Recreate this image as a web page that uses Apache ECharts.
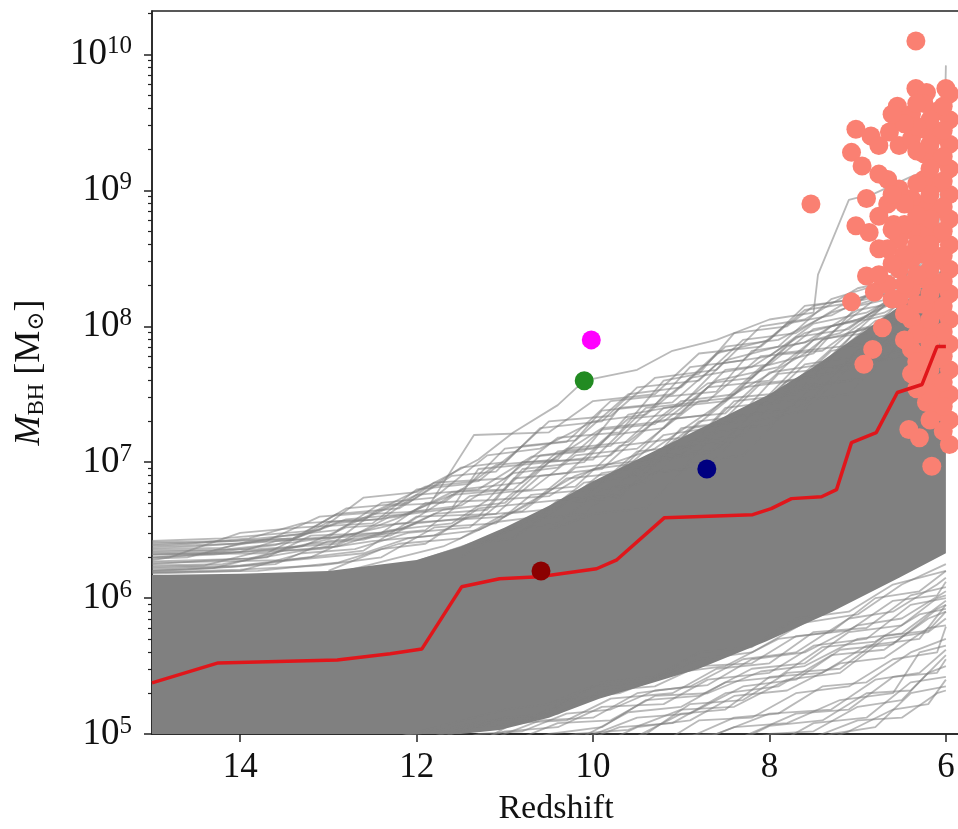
<!DOCTYPE html>
<html>
<head>
<meta charset="utf-8">
<script src="https://cdn.jsdelivr.net/npm/echarts@6/dist/echarts.min.js"></script>
<style>
  html, body { margin: 0; padding: 0; background: #fff; }
  #chart { width: 958px; height: 829px; }
</style>
</head>
<body>
<div id="chart"></div>
<script>
// Black-hole growth tracks vs redshift. Masses are stored as log10(M / Msun).

const xTicks = [6, 8, 10, 12, 14];
const yTicks = [1e5, 1e6, 1e7, 1e8, 1e9, 1e10];

// Envelope of the densely overlapping tracks: [redshift, log10 M]
const bandUpper = [
  [15, 6.17], [14, 6.18], [13, 6.2], [12, 6.28], [11.5, 6.38], [11, 6.52],
  [10.5, 6.68], [10, 6.86], [9.5, 7.02], [9, 7.18], [8.5, 7.34], [8, 7.5],
  [7.5, 7.7], [7, 7.93], [6.5, 8.16], [6.2, 8.3], [6.0, 8.45]
];
const bandLower = [
  [15, 5.0], [11.5, 5.0], [11.06, 5.03], [10.5, 5.12], [9.93, 5.26], [9.36, 5.37],
  [8.8, 5.48], [8.04, 5.68], [7.29, 5.9], [6.53, 6.15], [6.0, 6.33]
];

// Individual tracks above the dense band
const upperTracks = [
  [[15,6.42],[14.2,6.44],[13.1,6.5],[12.6,6.74],[12.0,6.78],[11.3,7.02],[10.9,7.22],[10.4,7.42],[10.1,7.6],[9.5,7.68],[9.1,7.82],[8.6,7.9],[8.0,8.05],[7.5,8.1],[7.45,8.38],[7.1,8.93],[6.8,8.98],[6.4,9.1],[6.0,9.2]],
  [[15,6.3],[13.5,6.36],[12.2,6.55],[11,6.6],[10.2,6.9],[9.3,7.1],[8.4,7.5],[7.6,7.8],[7.0,8.1],[6.5,8.35],[6.1,8.6],[6.02,9.3],[6.0,9.92]],
  [[15,6.38],[14.0,6.4],[13.0,6.45],[12.4,6.7],[11.8,6.74],[11.2,7.05],[10.6,7.1],[10.0,7.3],[9.4,7.35],[8.9,7.62],[8.2,7.7],[7.6,7.95],[7.0,8.05],[6.5,8.2],[6.0,8.3]],
  [[15,6.35],[13.8,6.36],[12.9,6.4],[12.3,6.6],[11.6,6.66],[11.3,6.95],[10.5,7.0],[9.9,7.25],[9.2,7.3],[8.6,7.6],[7.9,7.7],[7.3,8.0],[6.7,8.1],[6.0,8.35]],
  [[15,6.3],[14.3,6.32],[13.3,6.38],[12.8,6.52],[12.1,6.55],[11.5,6.8],[10.8,6.85],[10.3,7.1],[9.6,7.15],[9.0,7.45],[8.4,7.5],[7.8,7.85],[7.2,7.95],[6.6,8.2],[6.0,8.4]],
  [[15,6.26],[13.5,6.28],[12.6,6.35],[12.0,6.6],[11.1,6.62],[10.6,6.9],[9.9,6.95],[9.3,7.3],[8.7,7.35],[8.1,7.7],[7.5,7.8],[7.0,8.15],[6.3,8.25],[6.0,8.5]],
  [[15,6.22],[14.0,6.24],[13.2,6.3],[12.7,6.45],[11.9,6.5],[11.4,6.75],[10.7,6.8],[10.2,7.05],[9.5,7.1],[8.8,7.45],[8.0,7.5],[7.4,7.9],[6.8,8.0],[6.2,8.3],[6.0,8.35]],
  [[15,6.2],[14.6,6.21],[13.6,6.25],[13.0,6.42],[12.3,6.46],[11.7,6.65],[11.0,6.7],[10.5,7.0],[9.8,7.05],[9.2,7.4],[8.5,7.45],[7.9,7.8],[7.2,7.85],[6.7,8.15],[6.0,8.25]],
  [[15,6.4],[14.4,6.41],[13.4,6.44],[12.9,6.62],[12.2,6.66],[11.6,6.9],[11.1,6.93],[10.6,7.25],[9.9,7.3],[9.5,7.55],[8.8,7.6],[8.3,7.9],[7.7,7.95],[7.2,8.15],[6.6,8.25],[6.0,8.45]],
  [[15,6.33],[14.0,6.34],[13.6,6.42],[12.8,6.45],[12.2,6.5],[11.8,6.62],[11.2,6.65],[10.8,6.95],[10.1,7.0],[9.6,7.35],[9.0,7.42],[8.5,7.75],[7.9,7.85],[7.3,8.2],[6.9,8.28],[6.4,8.45],[6.0,8.55]],
  [[15,6.28],[14.8,6.3],[14.0,6.48],[13.3,6.52],[12.5,6.55],[12.0,6.8],[11.4,6.84],[11.0,7.1],[10.3,7.15],[9.8,7.45],[9.1,7.5],[8.6,7.8],[8.0,7.9],[7.6,8.15],[7.0,8.2],[6.5,8.35],[6.0,8.6]],
  [[15,6.24],[14.2,6.25],[13.0,6.38],[12.5,6.62],[11.9,6.64],[11.35,7.2],[10.5,7.22],[10.0,7.45],[9.3,7.5],[8.8,7.8],[8.1,7.85],[7.6,8.12],[7.0,8.18],[6.5,8.4],[6.0,8.5]],
  [[15,6.18],[14.0,6.2],[13.3,6.33],[12.7,6.36],[12.1,6.48],[11.4,6.52],[10.9,6.78],[10.2,6.82],[9.7,7.12],[9.0,7.18],[8.3,7.55],[7.7,7.6],[7.1,7.95],[6.5,8.05],[6.0,8.3]],
  [[15,6.32],[13.7,6.33],[13.0,6.56],[12.4,6.58],[11.8,6.85],[11.0,6.88],[10.4,7.18],[9.7,7.22],[9.2,7.6],[8.8,7.65],[8.4,7.95],[7.8,8.0],[7.5,8.15],[6.9,8.22],[6.3,8.4],[6.0,8.5]],
  [[15,6.2],[14.3,6.22],[13.5,6.35],[12.9,6.38],[12.3,6.5],[11.6,6.55],[11.2,6.72],[10.5,6.75],[10.0,6.95],[9.4,7.0],[8.9,7.25],[8.3,7.3],[7.8,7.6],[7.1,7.68],[6.6,8.0],[6.0,8.15]],
  [[15,6.25],[14.5,6.27],[13.7,6.3],[13.2,6.46],[12.4,6.48],[11.9,6.7],[11.2,6.72],[10.8,7.0],[10.0,7.02],[9.4,7.4],[8.7,7.45],[8.1,7.78],[7.4,7.82],[6.9,8.05],[6.2,8.15],[6.0,8.25]],
  [[15,6.19],[13.8,6.2],[12.9,6.26],[12.2,6.4],[11.5,6.44],[11.0,6.62],[10.4,6.66],[9.9,6.92],[9.3,6.98],[8.8,7.3],[8.2,7.35],[7.6,7.72],[7.0,7.78],[6.5,8.1],[6.0,8.2]],
  [[15,6.21],[14.1,6.23],[13.4,6.28],[12.6,6.33],[12.1,6.44],[11.3,6.5],[10.7,6.7],[10.1,6.74],[9.6,7.0],[9.0,7.05],[8.5,7.4],[7.9,7.45],[7.3,7.82],[6.8,7.88],[6.3,8.18],[6.0,8.28]],
  [[15,6.23],[14.4,6.24],[13.8,6.34],[13.1,6.36],[12.5,6.42],[11.8,6.46],[11.4,6.6],[10.8,6.64],[10.3,6.88],[9.7,6.92],[9.2,7.2],[8.6,7.26],[8.1,7.58],[7.5,7.62],[7.0,7.98],[6.4,8.06],[6.0,8.32]],
  [[12.8,6.2],[12.2,6.3],[11.7,6.38],[11.1,6.56],[10.6,6.6],[10.1,6.85],[9.5,6.9],[9.0,7.25],[8.4,7.3],[7.9,7.65],[7.2,7.7],[6.7,8.0],[6.2,8.1],[6.0,8.38]],
  [[15,6.36],[14.2,6.37],[13.5,6.46],[12.9,6.5],[12.3,6.68],[11.7,6.7],[11.1,6.98],[10.4,7.02],[9.9,7.38],[9.3,7.42],[8.9,7.7],[8.3,7.75],[7.8,8.02],[7.3,8.08],[6.8,8.25],[6.2,8.32],[6.0,8.55]],
  [[15,6.27],[13.9,6.29],[13.2,6.4],[12.6,6.43],[12.0,6.55],[11.3,6.6],[10.9,6.88],[10.3,6.92],[9.8,7.2],[9.2,7.25],[8.7,7.55],[8.0,7.6],[7.5,7.9],[6.9,7.95],[6.4,8.25],[6.0,8.35]],
  [[11.5,6.3],[11.0,6.5],[10.4,6.55],[9.9,6.8],[9.4,6.85],[8.9,7.15],[8.3,7.2],[7.8,7.55],[7.1,7.6],[6.6,7.95],[6.1,8.0],[6.0,8.2]],
  [[10.5,6.5],[10.0,6.62],[9.4,6.66],[8.9,7.0],[8.3,7.05],[7.7,7.45],[7.1,7.5],[6.6,7.85],[6.0,7.95]],
  [[15,6.29],[14.6,6.3],[13.9,6.42],[13.4,6.44],[12.8,6.58],[12.1,6.62],[11.6,6.78],[11.0,6.8],[10.6,7.05],[10.0,7.1],[9.6,7.32],[9.0,7.36],[8.5,7.68],[8.0,7.72],[7.5,7.98],[6.9,8.05],[6.4,8.3],[6.0,8.42]],
  [[15,6.37],[14.5,6.38],[13.7,6.42],[13.1,6.6],[12.5,6.63],[11.9,6.82],[11.3,6.86],[10.8,7.12],[10.2,7.16],[9.6,7.5],[9.0,7.55],[8.5,7.85],[7.9,7.9],[7.3,8.1],[6.8,8.2],[6.3,8.38],[6.0,8.48]],
  [[9.8,6.75],[9.3,6.92],[8.7,6.97],[8.2,7.3],[7.6,7.38],[7.1,7.7],[6.5,7.78],[6.0,8.1]],
  [[15,6.19],[14.0,6.21],[13.1,6.24],[12.4,6.3],[11.8,6.52],[11.1,6.55],[10.7,6.76],[10.0,6.8],[9.5,7.08],[8.9,7.12],[8.4,7.45],[7.7,7.5],[7.2,7.85],[6.6,7.9],[6.1,8.2],[6.0,8.22]],
  [[15,6.41],[14.1,6.42],[13.3,6.47],[12.8,6.66],[12.1,6.7],[11.5,6.96],[11.0,7.0],[10.5,7.3],[9.8,7.34],[9.3,7.62],[8.6,7.68],[8.1,8.0],[7.6,8.05],[7.0,8.28],[6.5,8.35],[6.0,8.5]],
  [[15,6.32],[14.4,6.33],[13.6,6.39],[12.9,6.55],[12.2,6.6],[11.6,6.76],[10.9,6.8],[10.4,7.08],[9.8,7.12],[9.2,7.48],[8.6,7.52],[8.2,7.82],[7.6,7.88],[7.0,8.12],[6.5,8.18],[6.0,8.4]],
  [[9.6,6.9],[9.1,7.1],[8.5,7.15],[8.0,7.5],[7.4,7.55],[6.9,7.9],[6.3,7.98],[6.0,8.25]],
  [[10.9,6.45],[10.3,6.7],[9.7,6.74],[9.2,7.05],[8.6,7.1],[8.1,7.42],[7.5,7.48],[7.0,7.82],[6.4,7.9],[6.0,8.15]],
  [[12.0,6.27],[11.4,6.4],[10.9,6.44],[10.4,6.72],[9.7,6.76],[9.2,7.02],[8.6,7.08],[8.2,7.36],[7.6,7.42],[7.1,7.74],[6.5,7.82],[6.0,8.05]],
  [[15,6.34],[14.3,6.35],[13.4,6.41],[12.7,6.47],[12.0,6.64],[11.5,6.68],[10.9,6.92],[10.4,6.96],[9.9,7.24],[9.3,7.28],[8.7,7.58],[8.2,7.62],[7.7,7.92],[7.1,7.98],[6.6,8.22],[6.0,8.3]],
  [[15,6.39],[14.6,6.4],[13.9,6.44],[13.3,6.55],[12.6,6.58],[12.0,6.76],[11.3,6.8],[10.7,7.04],[10.1,7.08],[9.7,7.4],[9.1,7.44],[8.6,7.72],[8.0,7.78],[7.5,8.02],[6.9,8.1],[6.4,8.28],[6.0,8.36]],
  [[8.9,7.1],[8.4,7.34],[7.8,7.38],[7.3,7.7],[6.7,7.76],[6.2,8.1],[6.0,8.15]],
  [[11.2,6.42],[10.7,6.58],[10.1,6.62],[9.6,6.9],[9.0,6.95],[8.6,7.22],[8.0,7.28],[7.5,7.56],[6.9,7.62],[6.4,7.95],[6.0,8.0]],
  [[13.0,6.2],[12.4,6.36],[11.9,6.4],[11.3,6.66],[10.7,6.7],[10.2,6.96],[9.6,7.0],[9.1,7.32],[8.5,7.36],[8.0,7.66],[7.4,7.72],[6.8,8.04],[6.3,8.1],[6.0,8.26]]
];

// Individual tracks below the dense band
const lowerTracks = [
  [[11.6,4.9],[11.0,5.02],[10.4,5.05],[9.9,5.2],[9.2,5.22],[8.7,5.4],[8.0,5.45],[7.5,5.65],[6.9,5.7],[6.4,5.95],[6.0,6.0]],
  [[10.8,4.9],[10.2,5.0],[9.6,5.03],[9.0,5.18],[8.4,5.2],[7.8,5.4],[7.2,5.45],[6.7,5.7],[6.2,5.75],[6.0,5.85]],
  [[9.8,4.9],[9.2,4.98],[8.6,5.0],[8.0,5.15],[7.3,5.18],[6.8,5.4],[6.3,5.45],[6.0,5.62]],
  [[8.6,4.9],[8.0,5.0],[7.5,5.02],[7.0,5.2],[6.5,5.25],[6.2,5.45],[6.0,5.5]],
  [[7.8,4.9],[7.3,5.0],[6.8,5.05],[6.4,5.3],[6.0,5.35]],
  [[12.0,4.95],[11.4,5.05],[10.8,5.08],[10.3,5.25],[9.7,5.3],[9.1,5.45],[8.5,5.5],[7.9,5.7],[7.3,5.75],[6.8,6.0],[6.3,6.05],[6.0,6.2]],
  [[10.3,4.9],[9.7,5.05],[9.1,5.08],[8.5,5.3],[7.9,5.35],[7.3,5.58],[6.7,5.62],[6.2,5.85],[6.0,5.9]],
  [[9.3,4.9],[8.8,5.1],[8.2,5.12],[7.7,5.3],[7.1,5.35],[6.6,5.55],[6.1,5.6],[6.0,5.79]],
  [[11.2,4.95],[10.6,5.1],[10.0,5.12],[9.5,5.3],[8.9,5.35],[8.3,5.55],[7.7,5.6],[7.1,5.85],[6.6,5.9],[6.1,6.1],[6.0,6.15]],
  [[8.2,4.9],[7.6,4.95],[7.0,5.1],[6.5,5.12],[6.1,5.3],[6.0,5.32]],
  [[12.5,4.95],[11.8,5.02],[11.2,5.1],[10.6,5.12],[10.0,5.35],[9.4,5.38],[8.8,5.55],[8.2,5.6],[7.6,5.82],[7.0,5.88],[6.5,6.1],[6.0,6.25]],
  [[9.0,4.9],[8.4,5.05],[7.8,5.08],[7.2,5.25],[6.6,5.3],[6.3,5.6],[6.0,5.65]],
  [[11.8,4.9],[11.3,5.0],[10.8,5.02],[10.3,5.15],[9.8,5.18],[9.3,5.32],[8.7,5.36],[8.2,5.55],[7.6,5.6],[7.0,5.8],[6.5,5.85],[6.0,6.05]],
  [[11.0,4.9],[10.5,5.0],[9.9,5.05],[9.4,5.25],[8.8,5.28],[8.2,5.48],[7.6,5.52],[7.1,5.75],[6.5,5.8],[6.1,6.0],[6.0,6.02]],
  [[10.0,4.9],[9.5,5.05],[8.9,5.1],[8.4,5.28],[7.8,5.32],[7.2,5.52],[6.7,5.56],[6.2,5.78],[6.0,5.8]],
  [[9.5,4.9],[9.0,4.95],[8.4,5.12],[7.9,5.15],[7.4,5.35],[6.9,5.38],[6.4,5.6],[6.0,5.7]],
  [[8.8,4.9],[8.3,4.98],[7.7,5.15],[7.1,5.18],[6.6,5.42],[6.1,5.45],[6.0,5.55]],
  [[12.2,4.9],[11.6,5.0],[11.0,5.12],[10.4,5.15],[9.9,5.32],[9.3,5.35],[8.8,5.5],[8.2,5.52],[7.7,5.72],[7.1,5.76],[6.6,5.98],[6.1,6.02],[6.0,6.12]],
  [[10.6,4.9],[10.1,4.97],[9.5,5.12],[8.9,5.15],[8.3,5.35],[7.7,5.4],[7.2,5.62],[6.6,5.66],[6.1,5.92],[6.0,5.95]],
  [[8.0,4.9],[7.5,5.08],[6.9,5.12],[6.4,5.38],[6.0,5.42]],
  [[11.4,4.9],[10.9,5.08],[10.3,5.1],[9.8,5.26],[9.1,5.3],[8.6,5.48],[8.0,5.52],[7.5,5.75],[6.9,5.78],[6.4,6.02],[6.0,6.08]],
  [[9.6,4.95],[9.0,5.15],[8.5,5.18],[8.0,5.42],[7.4,5.45],[6.9,5.65],[6.3,5.7],[6.0,5.95]],
  [[10.9,4.95],[10.4,5.08],[9.8,5.1],[9.3,5.28],[8.7,5.3],[8.1,5.46],[7.6,5.5],[7.0,5.7],[6.5,5.74],[6.0,5.98]],
  [[9.9,4.9],[9.4,5.0],[8.9,5.22],[8.3,5.25],[7.8,5.45],[7.2,5.48],[6.7,5.72],[6.2,5.76],[6.0,5.9]],
  [[12.8,4.9],[12.2,4.98],[11.6,5.08],[11.0,5.18],[10.5,5.22],[9.9,5.38],[9.3,5.42],[8.8,5.6],[8.2,5.64],[7.7,5.85],[7.1,5.9],[6.6,6.1],[6.0,6.2]],
  [[8.5,4.9],[8.0,5.06],[7.4,5.1],[6.9,5.3],[6.4,5.32],[6.0,5.58]],
  [[10.2,4.95],[9.6,5.16],[9.0,5.2],[8.5,5.38],[7.9,5.42],[7.4,5.64],[6.8,5.68],[6.3,5.88],[6.0,5.92]],
  [[7.6,4.9],[7.1,5.02],[6.6,5.18],[6.2,5.22],[6.0,5.4]]
];

// Median growth track
const medianTrack = [
  [15,5.376],[14.25,5.523],[12.9,5.545],[12.3,5.59],[11.94,5.626],[11.49,6.083],[11.06,6.142],
  [10.61,6.157],[9.96,6.216],[9.73,6.282],[9.19,6.592],[8.19,6.614],[7.98,6.658],[7.75,6.732],
  [7.41,6.746],[7.24,6.798],[7.07,7.144],[6.79,7.218],[6.55,7.513],[6.27,7.572],[6.1,7.852],[6.0,7.852]
];

// Observed quasars at z ~ 6-7.5
const quasars = [
  [6.34,10.10],[7.53,8.90],[6.34,9.75],[6.00,9.75],[6.55,9.62],[6.56,9.55],[7.02,9.45],[6.85,9.40],
  [7.07,9.28],[6.76,9.33],[6.95,9.18],[6.90,8.94],[7.02,8.74],[6.87,8.69],[6.76,8.81],[7.07,8.18],
  [6.81,8.25],[6.90,8.37],[6.72,7.99],[6.83,7.83],[6.93,7.72],[6.42,7.24],[6.30,7.18],[6.16,6.97],
  [6.22,7.44],[6.11,7.37],[6.11,9.58],[6.64,9.43],[6.53,9.33],[6.22,9.72],[6.59,8.75],[6.02,7.46],
  [5.96,9.71],[5.96,9.52],[5.96,9.34],[5.96,9.16],[5.96,8.97],[5.96,8.79],[5.96,8.60],[5.96,8.42],
  [5.96,8.24],[5.96,8.05],[5.96,7.87],[5.96,7.68],[5.96,7.50],[5.96,7.31],[5.96,7.13],
  [6.10,9.41],[6.10,9.23],[6.10,9.05],[6.10,8.86],[6.10,8.68],[6.10,8.49],[6.10,8.31],[6.10,8.12],
  [6.10,7.94],[6.10,7.76],[6.10,7.57],
  [6.25,9.64],[6.25,9.45],[6.25,9.27],[6.25,9.08],[6.25,8.90],[6.25,8.71],[6.25,8.53],[6.25,8.35],
  [6.25,8.16],[6.25,7.98],[6.25,7.79],[6.25,7.61],
  [6.39,9.56],[6.39,9.38],[6.39,8.94],[6.39,8.71],[6.39,8.49],[6.39,8.27],[6.39,8.05],[6.39,7.83],[6.39,7.65],
  [6.53,9.01],[6.53,8.64],[6.53,8.42],[6.53,8.20],
  [6.66,9.08],[6.66,8.90],[6.66,8.57],[6.66,8.31],
  [6.03,9.62],[6.03,9.44],[6.03,9.25],[6.03,9.07],[6.03,8.88],[6.03,8.70],[6.03,8.52],[6.03,8.33],
  [6.03,8.15],[6.03,7.96],[6.03,7.78],[6.03,7.59],[6.03,7.41],[6.03,7.23],
  [6.18,9.52],[6.18,9.34],[6.18,9.16],[6.18,8.97],[6.18,8.79],[6.18,8.60],[6.18,8.42],[6.18,8.24],
  [6.18,8.05],[6.18,7.87],[6.18,7.68],[6.18,7.50],[6.18,7.31],
  [6.33,9.64],[6.33,9.47],[6.33,9.29],[6.33,9.05],[6.33,8.82],[6.33,8.60],[6.33,8.38],[6.33,8.16],
  [6.33,7.94],[6.33,7.74],[6.33,7.54],
  [6.47,9.49],[6.47,8.90],[6.47,8.75],[6.47,8.53],[6.47,8.31],[6.47,8.09],[6.47,7.90],
  [6.61,9.56],[6.61,8.97],[6.61,8.71],[6.61,8.46],[6.61,8.20],
  [6.76,9.12],[6.76,8.57],[6.76,8.38]
];

// Individually highlighted objects
const magentaPoint = [10.02, 7.90];
const greenPoint = [10.10, 7.60];
const navyPoint = [8.71, 6.95];
const darkRedPoint = [10.59, 6.20];

const SERIF = '"Liberation Serif", "DejaVu Serif", serif';
const toMass = p => [p[0], Math.pow(10, p[1])];

const minorTicks = [];
yTicks.forEach(d => { for (let k = 2; k <= 9; k++) { if (d * k < 2.09e10) minorTicks.push(d * k); } });

const trackStyle = { color: 'rgba(128,128,128,0.55)', width: 1.8 };
const trackSeries = upperTracks.concat(lowerTracks).map(t => ({
  type: 'line', data: t.map(toMass), showSymbol: false, symbol: 'none',
  lineStyle: trackStyle, silent: true, z: 2, clip: true
}));

const pointSeries = (p, color) => ({
  type: 'scatter', data: [toMass(p)], symbolSize: 19,
  itemStyle: { color: color, opacity: 1 }, z: 6, silent: true
});

const chart = echarts.init(document.getElementById('chart'), null, { renderer: 'canvas' });

chart.setOption({
  animation: false,
  grid: {
    left: 152, right: -2, top: 11, bottom: 95, outerBoundsMode: 'none',
    show: true, borderColor: '#222', borderWidth: 1.5
  },
  xAxis: {
    type: 'value', inverse: true, min: 5.84, max: 15,
    name: 'Redshift', nameLocation: 'middle', nameGap: 58,
    nameTextStyle: { fontFamily: SERIF, fontSize: 34, color: '#111' },
    axisLine: { show: true, onZero: false, lineStyle: { color: '#222', width: 1.5 } },
    axisTick: { show: true, length: 8, lineStyle: { color: '#222', width: 1.5 }, customValues: xTicks },
    axisLabel: { customValues: xTicks, fontFamily: SERIF, fontSize: 35, color: '#111', margin: 16 },
    splitLine: { show: false }
  },
  yAxis: [
    {
      type: 'log', logBase: 10, min: 1e5, max: 2.09e10,
      name: '{i|M}{s|BH} [M{s|⊙}]', nameLocation: 'middle', nameGap: 104, nameRotate: 90,
      nameTextStyle: {
        fontFamily: SERIF, fontSize: 36, color: '#111',
        rich: {
          i: { fontFamily: SERIF, fontSize: 36, fontStyle: 'italic', color: '#111' },
          s: { fontFamily: SERIF, fontSize: 23, color: '#111', verticalAlign: 'bottom', padding: [12, 0, 0, 0] }
        }
      },
      axisLine: { show: true, onZero: false, lineStyle: { color: '#222', width: 1.5 } },
      axisTick: { show: true, length: 8, lineStyle: { color: '#222', width: 1.5 }, customValues: yTicks },
      axisLabel: {
        customValues: yTicks, margin: 20, color: '#111',
        formatter: v => '{b|10}{e|' + Math.round(Math.log10(v)) + '}',
        rich: {
          b: { fontFamily: SERIF, fontSize: 37, color: '#111' },
          e: { fontFamily: SERIF, fontSize: 25, color: '#111', verticalAlign: 'top', padding: [0, 0, 16, 0] }
        }
      },
      splitLine: { show: false }
    },
    {
      type: 'log', logBase: 10, min: 1e5, max: 2.09e10, position: 'left',
      axisLine: { show: false },
      axisTick: { show: true, length: 4, lineStyle: { color: '#222', width: 1.2 }, customValues: minorTicks },
      axisLabel: { show: false },
      splitLine: { show: false }
    }
  ],
  series: [
    {
      type: 'custom', silent: true, z: 1, clip: true,
      data: [[10, 1e6]],
      renderItem: (params, api) => {
        const pts = bandUpper.map(p => api.coord(toMass(p)))
          .concat(bandLower.slice().reverse().map(p => api.coord(toMass(p))));
        return { type: 'polygon', shape: { points: pts }, style: { fill: '#808080' } };
      }
    },
    ...trackSeries,
    {
      type: 'scatter', data: quasars.map(toMass), symbolSize: 19,
      itemStyle: { color: '#fa8072', opacity: 1 }, z: 4, silent: true
    },
    {
      type: 'line', data: medianTrack.map(toMass), showSymbol: false, symbol: 'none',
      lineStyle: { color: '#e0161b', width: 3.5 }, z: 5, silent: true
    },
    pointSeries(magentaPoint, '#ff00ff'),
    pointSeries(greenPoint, '#228b22'),
    pointSeries(navyPoint, '#000080'),
    pointSeries(darkRedPoint, '#8b0000')
  ]
});
</script>
</body>
</html>
